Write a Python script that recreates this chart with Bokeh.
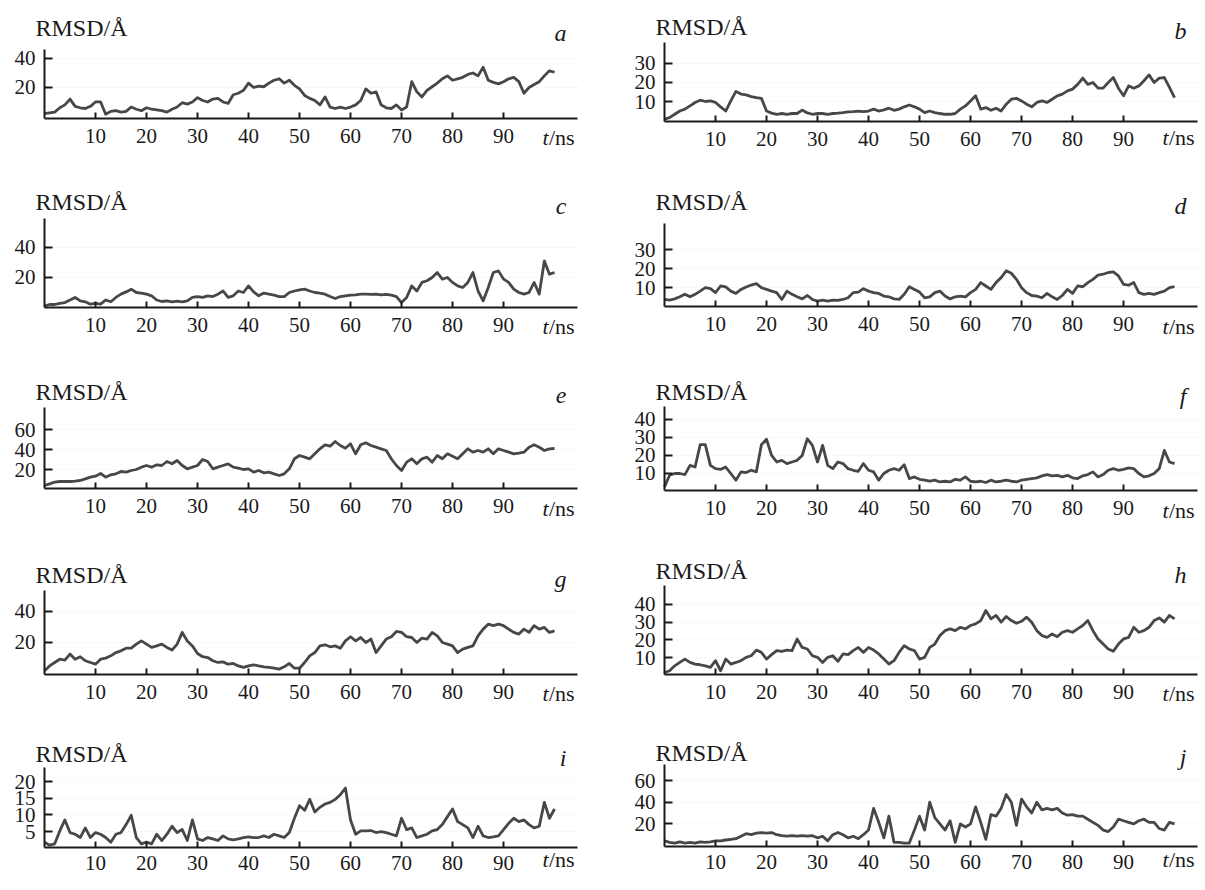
from bokeh.plotting import figure
from bokeh.models import Range1d, FixedTicker, Label
from bokeh.layouts import gridplot
from bokeh.embed import file_html
from bokeh.resources import INLINE

# ---------------- data (1 ns steps) ----------------
time_ns = list(range(0, 101))
x_ticks = [10, 20, 30, 40, 50, 60, 70, 80, 90]
x_tick_labels = ["10", "20", "30", "40", "50", "60", "70", "80", "90"]
panel_letters = ["a", "b", "c", "d", "e", "f", "g", "h", "i", "j"]

rmsd_a = [2, 2.5, 3, 6, 8, 12, 7, 6, 5.5, 7, 10, 10, 1.5, 3.5, 4, 3, 3.5, 6.5, 5, 4,
          6, 5, 4.5, 4, 3, 5, 6.5, 9.5, 8.5, 10, 13, 11, 10, 12, 12.5, 10, 9, 15, 16, 18,
          23, 20, 21, 20.5, 23, 25, 26, 23, 25, 21.5, 19, 14.5, 12.5, 11, 8, 13.5, 6.5, 5.5, 6.5, 5.5,
          6.5, 8, 11, 19, 16, 17, 8, 6, 5.5, 8, 4.5, 6.5, 24, 17, 13.5, 18, 20.5, 23, 26, 28,
          25, 26, 27, 29, 30, 28, 34, 25, 23.5, 22.5, 24, 26, 27, 24, 16, 20, 22, 24, 28, 31.5, 30.5]
rmsd_b = [0.7, 1.5, 3.3, 5, 6, 7.7, 9.5, 10.7, 10, 10.3, 9.5, 7.2, 5, 10.3, 15.3, 13.9, 13.5, 12.6, 12, 11.7,
          5, 3.9, 3.3, 3.7, 3.3, 3.7, 3.7, 5.5, 4, 3.3, 3.7, 3.7, 3.3, 3.7, 3.9, 4.2, 4.6, 4.7, 5, 4.7,
          5, 6, 5, 5.6, 6.5, 5.4, 6, 7.2, 8.2, 7.2, 6, 4.2, 5, 4.2, 3.7, 3.3, 3.3, 3.7, 6, 7.7,
          10.3, 13, 6, 6.8, 5.4, 6.5, 5, 8.6, 11.2, 11.7, 10.3, 8.6, 7.2, 9.5, 10.3, 9.5, 11.2, 13, 13.9, 15.6,
          16.5, 19, 22.3, 19, 20, 17, 17, 20, 22.6, 17, 13, 18.2, 17, 18.2, 20.9, 24, 20, 22.3, 22.6, 17.4, 12]
rmsd_c = [1, 2, 2, 2.7, 3.3, 5, 6.7, 4.4, 3.8, 2.2, 2.7, 2.2, 5, 3.8, 6.7, 8.9, 10.4, 12.2, 10, 9.6,
          8.9, 7.8, 5, 4, 4.4, 3.8, 4.2, 3.8, 4.4, 6.7, 7.3, 6.7, 7.8, 7.3, 8.9, 11, 6.7, 7.8, 11, 10,
          14.4, 10.4, 7.8, 9.6, 8.9, 8.2, 7.3, 7.3, 10, 11, 11.8, 12.2, 11, 10, 9.6, 8.9, 7.3, 6, 7.3, 7.8,
          8.2, 8.4, 8.9, 8.9, 8.7, 8.9, 8.4, 8.7, 8.2, 7.3, 3.3, 6.7, 14.4, 11, 16.7, 17.8, 20, 23.3, 18.9, 20,
          16.7, 14.4, 13.3, 16.7, 23.3, 11, 4.4, 13.3, 23.3, 24.4, 18.9, 16.7, 12.2, 10, 8.9, 10, 16.7, 8.9, 31, 22.2, 23.3]
rmsd_d = [3.7, 3.4, 4, 5.1, 6.5, 5.1, 6.4, 8.1, 9.9, 9.4, 7.3, 10.8, 10.3, 8.1, 6.9, 9, 10.3, 11.3, 12, 9.9,
          9, 8.1, 7.3, 3.7, 8.1, 6.4, 5.1, 4, 5.8, 3.7, 2.8, 3.4, 2.8, 3.4, 3.2, 3.7, 4.6, 7.3, 7.6, 9.4,
          8.1, 7.3, 6.9, 5.5, 5.1, 4, 3.7, 6.4, 10.4, 9, 7.6, 4.6, 5.1, 7.3, 8.1, 5.5, 4, 5.1, 5.5, 5.1,
          7.3, 9, 12.6, 10.8, 9, 12.6, 15.2, 18.8, 17.5, 14.3, 9.9, 7.3, 5.8, 5.5, 4.6, 6.9, 5.1, 3.7, 5.8, 9,
          6.9, 10.8, 10.4, 12.6, 14.3, 16.5, 17, 17.9, 18.2, 16.1, 11.7, 11.2, 12.6, 7.3, 6.4, 6.9, 6.4, 7.3, 8.1, 9.9, 10.5]
rmsd_e = [4, 5.7, 7.3, 8, 8, 8, 8.3, 9, 10.7, 12.3, 13.3, 16, 12.3, 14.7, 15.7, 18, 17.3, 19, 20, 22.3,
          24, 22.3, 24.7, 24, 28, 25.7, 29, 24, 20.7, 22.3, 24, 30, 28, 20.7, 22.3, 24, 25.7, 22.3, 21.3, 20,
          20.7, 17.3, 19, 16.7, 17.3, 15.7, 14, 15.7, 20.7, 30.7, 34, 32.3, 30.7, 35.7, 40.7, 44.7, 43.3, 48, 44, 41.3,
          45.7, 35.7, 44.7, 46.7, 44, 42.3, 40.7, 39, 30.7, 24, 19, 27.3, 30.7, 25.7, 30.7, 32.3, 27.3, 34, 30.7, 35.7,
          33.3, 30.7, 35.7, 40.7, 37.3, 39, 37.3, 40.7, 35.7, 40.7, 39, 37.3, 35.7, 36.3, 37.3, 42.3, 44.7, 42.3, 39, 40.7, 41]
rmsd_f = [2.6, 9, 10, 10, 9.4, 14.5, 13.6, 26, 26, 14.5, 12.7, 12.3, 13.6, 10, 6.3, 10.9, 10.5, 11.8, 10.9, 26,
          29, 20, 16.4, 17.3, 15.5, 16.4, 17.3, 20, 29.3, 25.6, 16.4, 25.6, 14.5, 12.7, 16.4, 15.5, 12.7, 11.8, 11.2, 15.5,
          11.8, 10.9, 6.3, 10, 11.8, 12.7, 11.8, 14.9, 7.2, 8.1, 6.8, 6.3, 5.7, 6.3, 5.3, 5.7, 5.3, 6.8, 6.3, 8.1,
          5.7, 5.3, 5.7, 5, 6.3, 5.3, 5.7, 6.3, 5.7, 5.3, 6.3, 6.8, 7.2, 7.6, 8.7, 9.4, 8.7, 9, 8.1, 9,
          7.6, 7.2, 8.7, 9.4, 10.9, 8.1, 9.4, 11.8, 12.7, 11.8, 12.3, 13.1, 12.7, 10, 8.1, 8.7, 10, 12.7, 22.8, 16.4, 15.5]
rmsd_g = [1.7, 4.9, 7.1, 9.2, 8.6, 12.5, 9.2, 10.8, 8.2, 7.1, 6, 9.2, 9.9, 11.4, 13.5, 14.6, 16.3, 16.3, 18.9, 21,
          18.9, 16.8, 17.8, 18.9, 16.8, 15.1, 18.9, 26.5, 21, 17.8, 12.9, 10.8, 10.3, 8.2, 7.1, 7.5, 6, 6.5, 4.9, 3.9,
          4.9, 5.6, 4.9, 4.3, 3.9, 3.4, 2.8, 4.3, 6.5, 3.4, 3.4, 7.1, 11.4, 13.5, 17.8, 18.5, 17.2, 17.8, 16.3, 21,
          23.7, 21, 23.2, 20, 22.2, 13.5, 17.8, 22.2, 23.7, 27.1, 26.5, 23.7, 23.2, 20, 22.8, 22.2, 26.5, 24.3, 20, 18.9,
          17.8, 13.5, 15.7, 16.8, 17.8, 24.3, 28.6, 31.8, 30.8, 31.8, 30.8, 28.6, 26.5, 25.4, 28.6, 26.5, 30.8, 28.6, 29.7, 26.5, 27.5]
rmsd_h = [1.5, 2.5, 5.3, 7.2, 9.1, 7.2, 6.3, 5.9, 5.3, 4.4, 8.2, 2.5, 9.1, 6.3, 7.2, 8.2, 10.1, 11, 14.2, 12.9,
          9.1, 11.6, 13.9, 13.5, 14.2, 13.9, 20.5, 15.7, 14.8, 11, 10.1, 7.2, 10.1, 11, 7.8, 12, 11.6, 13.9, 15.7, 12.9,
          15.7, 14.2, 12, 9.1, 6.3, 8.2, 12.9, 16.7, 14.8, 13.9, 9.1, 10.1, 15.7, 17.6, 22.4, 25.2, 26.2, 25.2, 27.1, 26.2,
          28.1, 29, 30.9, 36.6, 31.9, 33.8, 30, 33.2, 30.9, 29.4, 30.5, 32.8, 30, 25.2, 22.4, 21.4, 23.3, 21.8, 24.3, 25.2,
          24.3, 26.2, 28.1, 30.9, 25.2, 20.5, 17.6, 14.8, 13.5, 17.6, 20.5, 21.4, 27.1, 24.3, 25.2, 27.1, 30.9, 32.4, 30, 33.8, 31.9]
rmsd_i = [1.8, 0.9, 1.3, 5.2, 8.5, 4.7, 4.2, 3.2, 6.1, 3.2, 4.7, 4.2, 3.2, 1.8, 4.2, 4.7, 7.1, 9.9, 3.2, 1.3,
          1.8, 1.3, 4.2, 2.3, 4.2, 6.6, 4.7, 5.6, 2.3, 8.5, 2.8, 2.3, 3.2, 2.8, 2.3, 3.7, 2.8, 2.5, 2.8, 3.2,
          3.4, 3.2, 3.2, 3.7, 3.2, 4.2, 3.7, 3.2, 4.7, 9, 12.8, 11.4, 14.7, 10.9, 12.3, 13.3, 13.8, 14.7, 16.1, 18.1,
          8.5, 4.2, 5.2, 5.2, 5.3, 4.7, 5, 4.7, 4.2, 3.7, 9, 5.6, 6.1, 3.2, 3.7, 4.2, 5.2, 5.6, 7.1, 9.5,
          11.8, 8, 7.1, 6.1, 3.2, 6.6, 3.7, 3.2, 3.4, 3.7, 5.6, 7.5, 9, 8, 8.5, 7.1, 6.1, 6.6, 13.8, 9, 11.8]
rmsd_j = [4.3, 2.9, 2.3, 3.4, 2.3, 2.9, 2.3, 3.4, 2.9, 3.4, 4.3, 4.3, 5.1, 5.7, 6.3, 8.6, 10.9, 10, 11.4, 12,
          11.4, 12, 10, 9.1, 8.6, 9.1, 8.6, 9.1, 8.6, 9.1, 7.1, 8.6, 4.3, 10, 12, 10, 7.1, 8.6, 6.3, 10,
          14.3, 34.3, 21.4, 7.1, 27.1, 2.9, 2.9, 2.3, 2.3, 14.3, 27.1, 14.3, 40, 25.7, 20, 14.3, 22.9, 2.9, 20, 17.1,
          20, 35.7, 21.4, 5.7, 28.6, 27.1, 34.3, 47.1, 40, 18.6, 42.9, 35.7, 30, 40, 32.9, 34.3, 32.9, 34.3, 30, 28,
          28.6, 27.1, 27.1, 24.3, 21.4, 18.6, 14.3, 12.9, 17.1, 24.3, 22.9, 21.4, 20, 22.9, 24.3, 21.4, 21.4, 15.7, 14.3, 21.4, 20]

series = [rmsd_a, rmsd_b, rmsd_c, rmsd_d, rmsd_e, rmsd_f, rmsd_g, rmsd_h, rmsd_i, rmsd_j]

y_ticks = [[20, 40], [10, 20, 30], [20, 40], [10, 20, 30], [20, 40, 60],
           [10, 20, 30, 40], [20, 40], [10, 20, 30, 40], [5, 10, 15, 20], [20, 40, 60]]
# value at the x-axis line, value at the top of the y-axis line
y_limits = [(-1.4, 46.2), (-0.5, 41.0), (0, 59.3), (0, 43.7), (1, 82),
            (0.56, 47.2), (-0.65, 53.5), (0.38, 50.75), (0.2, 24.3), (-0.9, 74.8)]

# ---------------- layout (page pixel geometry) ----------------
ROWS = [(0, 185), (185, 175), (360, 180), (540, 185), (725, 164)]
COLS = [dict(page_left=0, width=605, axis_x=44),
        dict(page_left=605, width=599, axis_x=664)]
# (y-axis top, x-axis line, "RMSD/Å" baseline, letter baseline) in page px
GEOM = [(49, 118, 36, 39), (42, 121, 35, 37),
        (218, 307, 210, 212), (223, 306, 210, 212),
        (407, 488, 400, 402), (406, 490, 400, 402),
        (590, 674, 583, 585), (585, 674, 579, 581),
        (767, 847, 762, 764), (764, 846, 761, 763)]
STANDOFFS = [10, 10, 10, 10, 8]
TNS_BASE = [146.7, 146.7, 335.7, 335.7, 517.7, 519.7, 702.7, 702.7, 869.0, 869.0]
X_MAX = 104.5
PX_NS = 533 / X_MAX

SERIF = "Liberation Serif"
INK = "#1a1a1a"
LINE = "#474747"
# measured shift between requested and drawn text baselines (px)
LAB_SHIFT, LET_SHIFT, TNS_SHIFT = 9, 7, 10


def make_panel(k):
    col = COLS[k % 2]
    row_top, row_h = ROWS[k // 2]
    frame_top, axis_y, lab_base, let_base = GEOM[k]
    standoff = STANDOFFS[k // 2]
    y_axis_val, y_top_val = y_limits[k]
    pxu = (axis_y - frame_top) / (y_top_val - y_axis_val)
    ax_loc = col["axis_x"] - col["page_left"]       # local px of t = 0
    ay_loc = axis_y - row_top                        # local px of x-axis line

    x_lo = -ax_loc / PX_NS
    x_hi = (col["width"] - ax_loc) / PX_NS
    y_hi = y_axis_val + ay_loc / pxu
    y_lo = y_axis_val - (row_h - ay_loc) / pxu

    def dx(page_x):
        return (page_x - col["axis_x"]) / PX_NS

    def dy(page_y):
        return y_axis_val + (axis_y - page_y) / pxu

    p = figure(width=col["width"], height=row_h, title=None,
               x_range=Range1d(x_lo, x_hi), y_range=Range1d(y_lo, y_hi),
               min_border=0, min_border_left=0, min_border_right=0,
               min_border_top=0, min_border_bottom=0,
               output_backend="svg", toolbar_location=None)
    p.outline_line_color = None
    p.background_fill_color = "white"
    p.border_fill_color = "white"
    p.grid.visible = False

    # faint dotted reference lines at the y ticks
    yt = y_ticks[k]
    p.segment(x0=[0] * len(yt), y0=yt, x1=[X_MAX] * len(yt), y1=yt,
              line_color="#e3e3e3", line_width=1, line_dash="1 3")

    p.line(time_ns, series[k], line_color=LINE, line_width=2.8, line_join="round")

    p.xaxis.fixed_location = y_axis_val
    p.yaxis.fixed_location = 0
    p.xaxis.bounds = (0, X_MAX)
    p.yaxis.bounds = (y_axis_val, y_top_val)
    for ax in (p.xaxis[0], p.yaxis[0]):
        ax.axis_line_color = INK
        ax.axis_line_width = 2
        ax.major_tick_line_color = INK
        ax.major_tick_line_width = 2
        ax.major_tick_out = 0
        ax.minor_tick_in = 0
        ax.minor_tick_out = 0
        ax.major_label_text_font = SERIF
        ax.major_label_text_color = INK
        ax.major_label_text_font_size = "21px"
    p.xaxis.ticker = FixedTicker(ticks=x_ticks)
    p.xaxis.major_label_overrides = {t: s for t, s in zip(x_ticks, x_tick_labels)}
    p.xaxis.major_tick_in = 6
    p.xaxis.major_label_standoff = standoff
    p.yaxis.ticker = FixedTicker(ticks=yt)
    p.yaxis.major_tick_in = 8
    p.yaxis.major_label_standoff = 9

    ax_page = col["axis_x"]
    p.add_layout(Label(x=dx(ax_page - 9), y=dy(lab_base - LAB_SHIFT), text="RMSD/Å",
                       text_font=SERIF, text_font_size="24px", text_color=INK,
                       text_baseline="alphabetic", text_align="left"))
    p.add_layout(Label(x=dx(ax_page + 522), y=dy(let_base - LET_SHIFT), text=panel_letters[k],
                       text_font=SERIF, text_font_style="italic", text_font_size="24px",
                       text_color=INK, text_baseline="alphabetic", text_align="right"))
    tick_base = TNS_BASE[k] - TNS_SHIFT
    p.add_layout(Label(x=dx(ax_page + 498), y=dy(tick_base), text="t",
                       text_font=SERIF, text_font_style="italic", text_font_size="22px",
                       text_color=INK, text_baseline="alphabetic", text_align="left"))
    p.add_layout(Label(x=dx(ax_page + 504.5), y=dy(tick_base), text="/ns",
                       text_font=SERIF, text_font_size="22px",
                       text_color=INK, text_baseline="alphabetic", text_align="left"))
    return p


panels = [make_panel(k) for k in range(10)]
grid = gridplot([[panels[2 * r], panels[2 * r + 1]] for r in range(5)],
                toolbar_location=None)

open("out.html", "w").write(file_html(grid, INLINE))
